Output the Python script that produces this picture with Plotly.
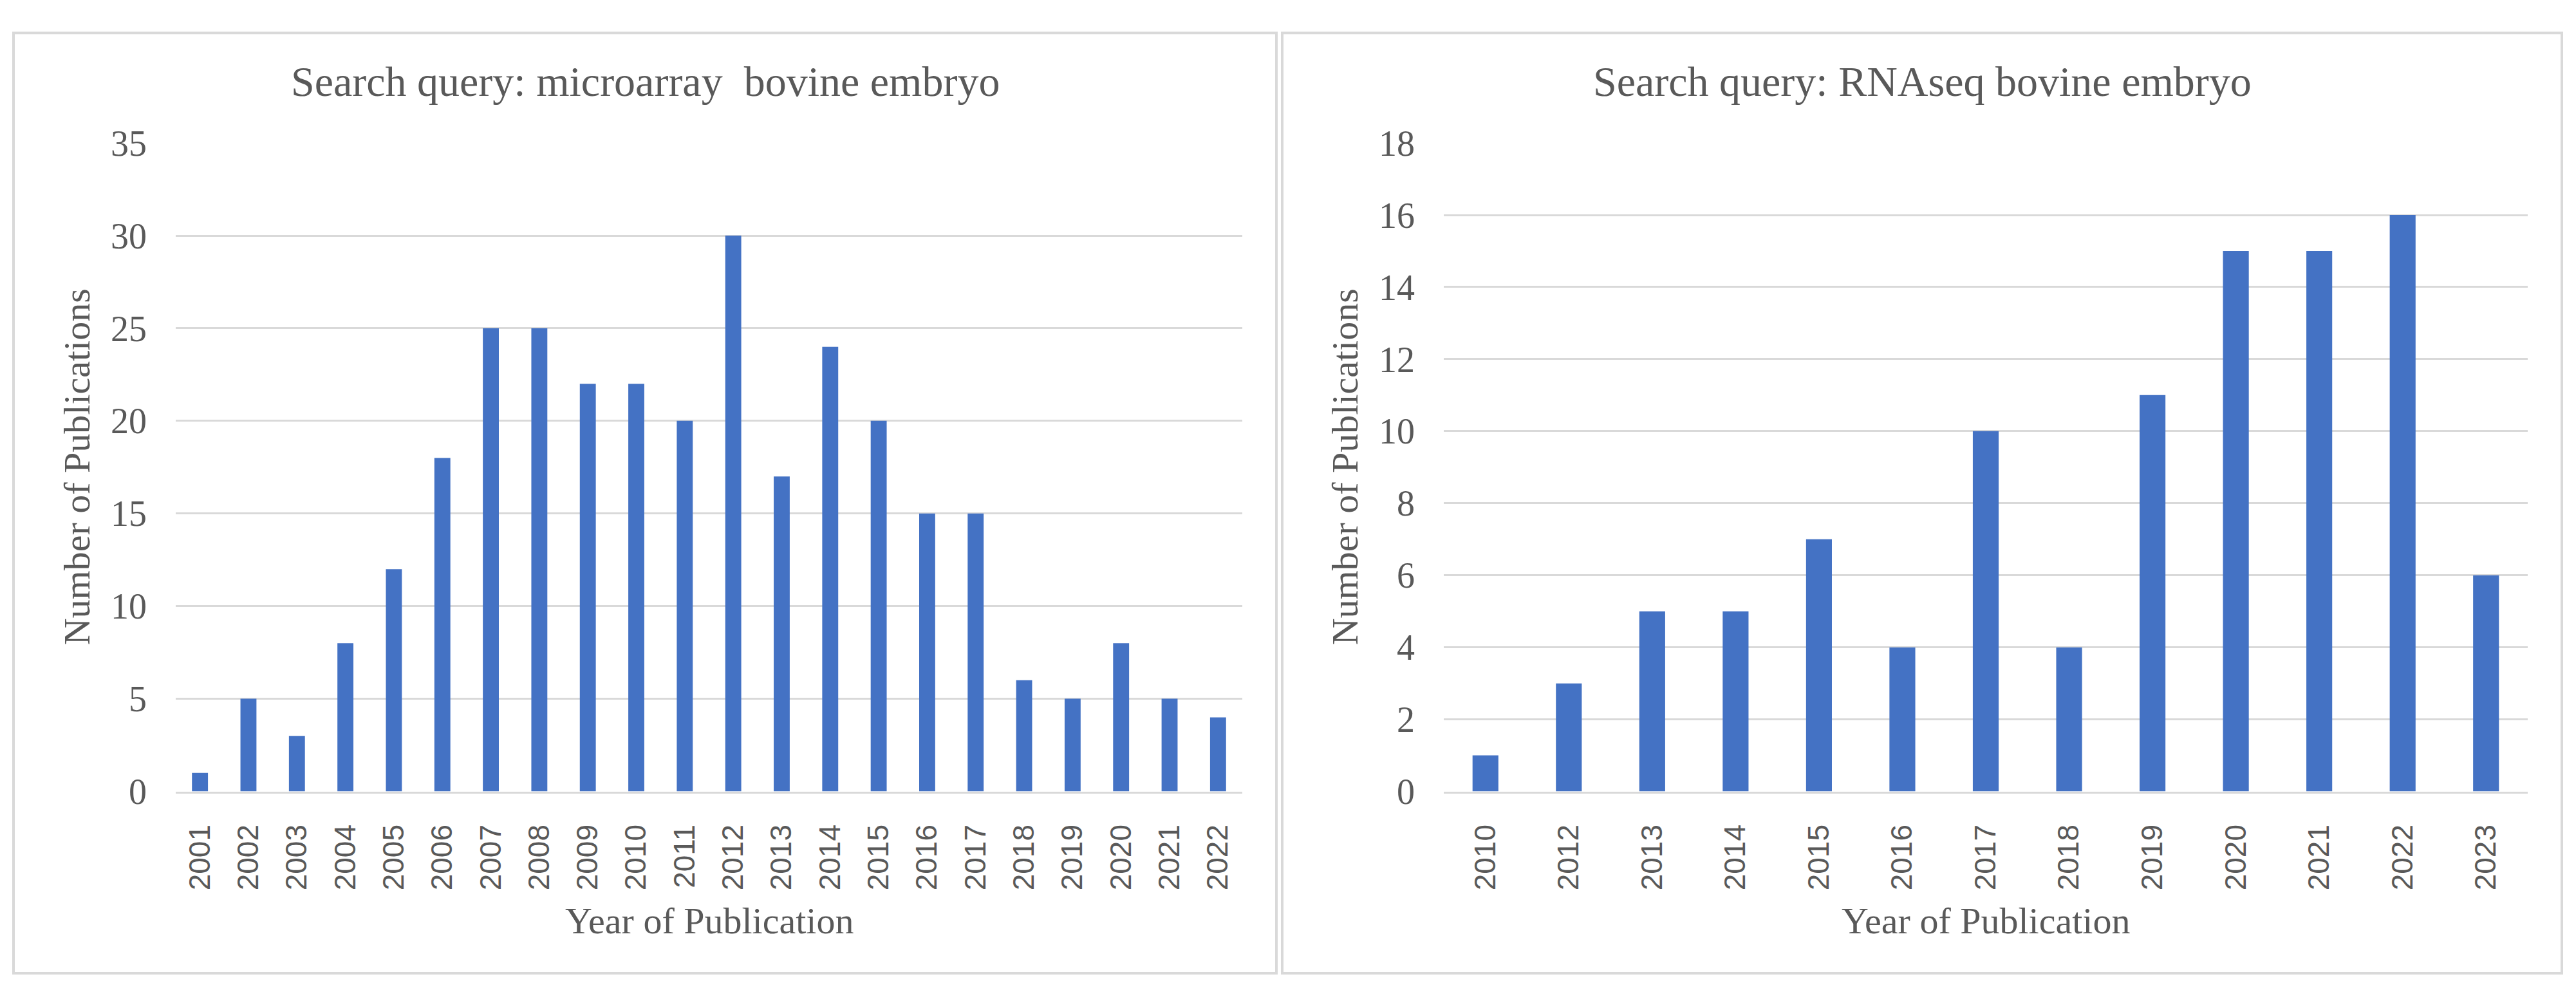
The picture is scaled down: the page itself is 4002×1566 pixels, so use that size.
import plotly.graph_objects as go

W, H = 4002, 1566

# ---- data ----
years_micro = ["2001", "2002", "2003", "2004", "2005", "2006", "2007", "2008", "2009", "2010", "2011",
               "2012", "2013", "2014", "2015", "2016", "2017", "2018", "2019", "2020", "2021", "2022"]
counts_micro = [1, 5, 3, 8, 12, 18, 25, 25, 22, 22, 20, 30, 17, 24, 20, 15, 15, 6, 5, 8, 5, 4]

years_rna = ["2010", "2012", "2013", "2014", "2015", "2016", "2017", "2018", "2019", "2020", "2021", "2022", "2023"]
counts_rna = [1, 3, 5, 5, 7, 4, 10, 4, 11, 15, 15, 16, 6]

title_micro = "Search query: microarray  bovine embryo"
title_rna = "Search query: RNAseq bovine embryo"
x_title = "Year of Publication"
y_title = "Number of Publications"

# ---- style ----
BLUE = "#4472C4"
GRID = "#d9d9d9"
TXT = "#595959"
SERIF = "Liberation Serif, Times New Roman, serif"
SANS = "Liberation Sans, Arial, sans-serif"


def px(x):
    return x / W


def py(y):
    return 1 - y / H


L1, R1 = 273, 1930
L2, R2 = 2243, 3927
TOP, BOT = 200, 1249

fig = go.Figure()
fig.add_trace(go.Bar(x=years_micro, y=counts_micro, xaxis="x", yaxis="y",
                     marker=dict(color=BLUE, line=dict(width=0)), width=0.33))
fig.add_trace(go.Bar(x=years_rna, y=counts_rna, xaxis="x2", yaxis="y2",
                     marker=dict(color=BLUE, line=dict(width=0)), width=0.31))

xcommon = dict(type="category", tickangle=-90, ticks="", showgrid=False,
               showline=True, linecolor=GRID, linewidth=3,
               tickfont=dict(family=SANS, size=46, color=TXT), ticklabelstandoff=30)
ycommon = dict(ticks="", showline=False, zeroline=False, showgrid=True,
               gridcolor=GRID, gridwidth=3,
               tickfont=dict(family=SERIF, size=56, color=TXT), ticklabelstandoff=44)

fig.update_layout(
    width=W, height=H,
    margin=dict(l=0, r=0, t=0, b=0),
    paper_bgcolor="white", plot_bgcolor="white",
    showlegend=False,
    xaxis=dict(domain=[px(L1), px(R1)], anchor="y", **xcommon),
    yaxis=dict(domain=[py(BOT), py(TOP)], anchor="x", range=[0, 35], dtick=5, **ycommon),
    xaxis2=dict(domain=[px(L2), px(R2)], anchor="y2", **xcommon),
    yaxis2=dict(domain=[py(BOT), py(TOP)], anchor="x2", range=[0, 18], dtick=2, **ycommon),
    shapes=[
        dict(type="rect", xref="paper", yref="paper", x0=px(21), x1=px(1983), y0=py(1543), y1=py(22),
             line=dict(color=GRID, width=4), layer="below"),
        dict(type="rect", xref="paper", yref="paper", x0=px(1992), x1=px(3980), y0=py(1543), y1=py(22),
             line=dict(color=GRID, width=4), layer="below"),
    ],
    annotations=[
        dict(text=title_micro, xref="paper", yref="paper", x=px(1002), y=py(100),
             xanchor="center", yanchor="middle", showarrow=False,
             font=dict(family=SERIF, size=66, color=TXT)),
        dict(text=title_rna, xref="paper", yref="paper", x=px(2986), y=py(100),
             xanchor="center", yanchor="middle", showarrow=False,
             font=dict(family=SERIF, size=66, color=TXT)),
        dict(text=y_title, xref="paper", yref="paper", x=px(119), y=py(724), textangle=-90,
             xanchor="center", yanchor="middle", showarrow=False,
             font=dict(family=SERIF, size=58, color=TXT)),
        dict(text=y_title, xref="paper", yref="paper", x=px(2089), y=py(724), textangle=-90,
             xanchor="center", yanchor="middle", showarrow=False,
             font=dict(family=SERIF, size=58, color=TXT)),
        dict(text=x_title, xref="paper", yref="paper", x=px((L1 + R1) / 2), y=py(1458),
             xanchor="center", yanchor="middle", showarrow=False,
             font=dict(family=SERIF, size=58, color=TXT)),
        dict(text=x_title, xref="paper", yref="paper", x=px((L2 + R2) / 2), y=py(1458),
             xanchor="center", yanchor="middle", showarrow=False,
             font=dict(family=SERIF, size=58, color=TXT)),
    ],
)

fig.write_html("out.html",
               config={"displayModeBar": False},
               post_script="document.body.style.margin='0';document.body.style.overflow='hidden';")
